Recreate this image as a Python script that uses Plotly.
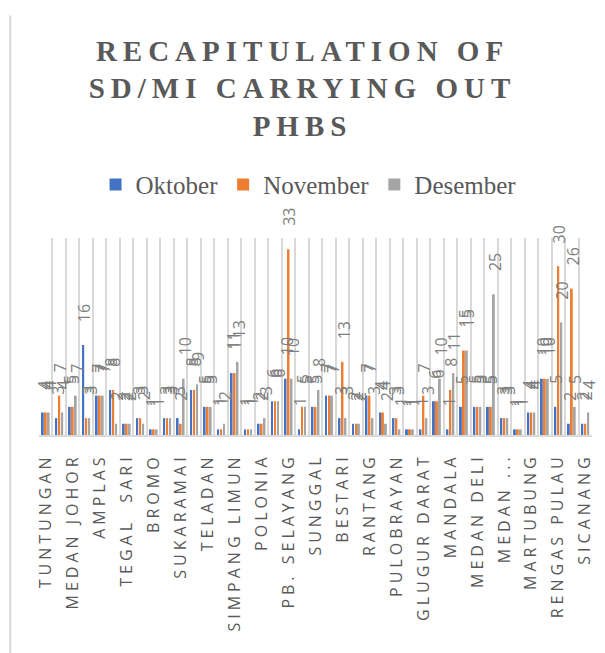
import plotly.graph_objects as go

# categories: 41 schools/areas, Excel only labelled every other one
positions = list(range(1, 42))
label_pos = positions[::2]
label_names = ['TUNTUNGAN', 'MEDAN JOHOR', 'AMPLAS', 'TEGAL  SARI', 'BROMO',
               'SUKARAMAI', 'TELADAN', 'SIMPANG LIMUN', 'POLONIA', 'PB. SELAYANG',
               'SUNGGAL', 'BESTARI', 'RANTANG', 'PULOBRAYAN', 'GLUGUR DARAT',
               'MANDALA', 'MEDAN DELI', 'MEDAN ...', 'MARTUBUNG', 'RENGAS PULAU',
               'SICANANG']

oktober = [4, 3, 5, 16, 7, 8, 2, 3, 1, 3, 3, 8, 5, 1, 11, 1, 2, 6, 10, 1, 5,
           7, 3, 2, 7, 4, 3, 1, 1, 6, 1, 5, 5, 5, 3, 1, 4, 10, 5, 2, 2]
november = [4, 7, 5, 3, 7, 8, 2, 3, 1, 3, 2, 8, 5, 1, 11, 1, 2, 6, 33, 5, 5,
            7, 13, 2, 7, 4, 3, 1, 7, 6, 8, 15, 5, 5, 3, 1, 4, 10, 30, 26, 2]
desember = [4, 4, 7, 3, 7, 2, 2, 2, 1, 3, 10, 9, 5, 2, 13, 1, 3, 6, 10, 5, 8,
            7, 3, 2, 3, 2, 1, 1, 3, 10, 11, 15, 5, 25, 3, 1, 4, 10, 20, 5, 4]

series = [('Oktober', oktober, '#4472C4'),
          ('November', november, '#ED7D31'),
          ('Desember', desember, '#A5A5A5')]

bargap = 0.34
fig = go.Figure()
for name, vals, col in series:
    fig.add_trace(go.Bar(x=positions, y=vals, name=name, marker_color=col,
                         marker_line_width=0))

# rotated data labels sitting above each bar
slot = (1 - bargap) / 3
for k, (name, vals, col) in enumerate(series):
    off = (k - 1) * slot
    for p, v in zip(positions, vals):
        fig.add_annotation(x=p + off, y=v, text=str(v), textangle=-90,
                           showarrow=False, yanchor='bottom', xanchor='center',
                           yshift=21, xshift=1,
                           font=dict(family='Open Sans', size=16, color='#7f7f7f'))

fig.add_shape(type='line', xref='paper', yref='paper', x0=-0.052, x1=-0.052,
              y0=-1.11, y1=2.13, line=dict(color='#d9d9d9', width=2))

fig.update_layout(
    width=605, height=653,
    margin=dict(l=39, r=10, t=238, b=218),
    paper_bgcolor='white', plot_bgcolor='white',
    barmode='group', bargap=bargap, bargroupgap=0.35,
    title=dict(text='<b>RECAPITULATION OF<br>SD/MI CARRYING OUT<br>PHBS</b>',
               x=0.5, xref='container', xanchor='center',
               y=0.907, yref='container', yanchor='top',
               font=dict(family='Liberation Serif', size=29, color='#595959')),
    legend=dict(orientation='h', xref='container', x=0.51, xanchor='center',
                yref='container', y=0.717, yanchor='middle',
                font=dict(family='Liberation Serif', size=25, color='#595959'),
                itemwidth=30, tracegroupgap=0),
    showlegend=True,
)
fig.update_xaxes(range=[0.5, 41.5], tickvals=label_pos, ticktext=label_names,
                 tickangle=-90, showgrid=False, zeroline=False,
                 showline=True, linecolor='#d9d9d9', linewidth=2,
                 ticks='', ticklabelstandoff=10,
                 tickfont=dict(family='Open Sans', size=16, color='#595959'),
                 minor=dict(tick0=0.5, dtick=1, showgrid=True,
                            gridcolor='#d9d9d9', gridwidth=2, ticks=''))
fig.update_yaxes(range=[0, 35], visible=False)

spacing = """
document.body.style.margin='0';
document.querySelectorAll('.gtitle').forEach(function(e){e.style.letterSpacing='6px';});
document.querySelectorAll('.xtick text').forEach(function(e){e.style.letterSpacing='4px';});
"""
fig.write_html("out.html", post_script=spacing, config={'displayModeBar': False})
